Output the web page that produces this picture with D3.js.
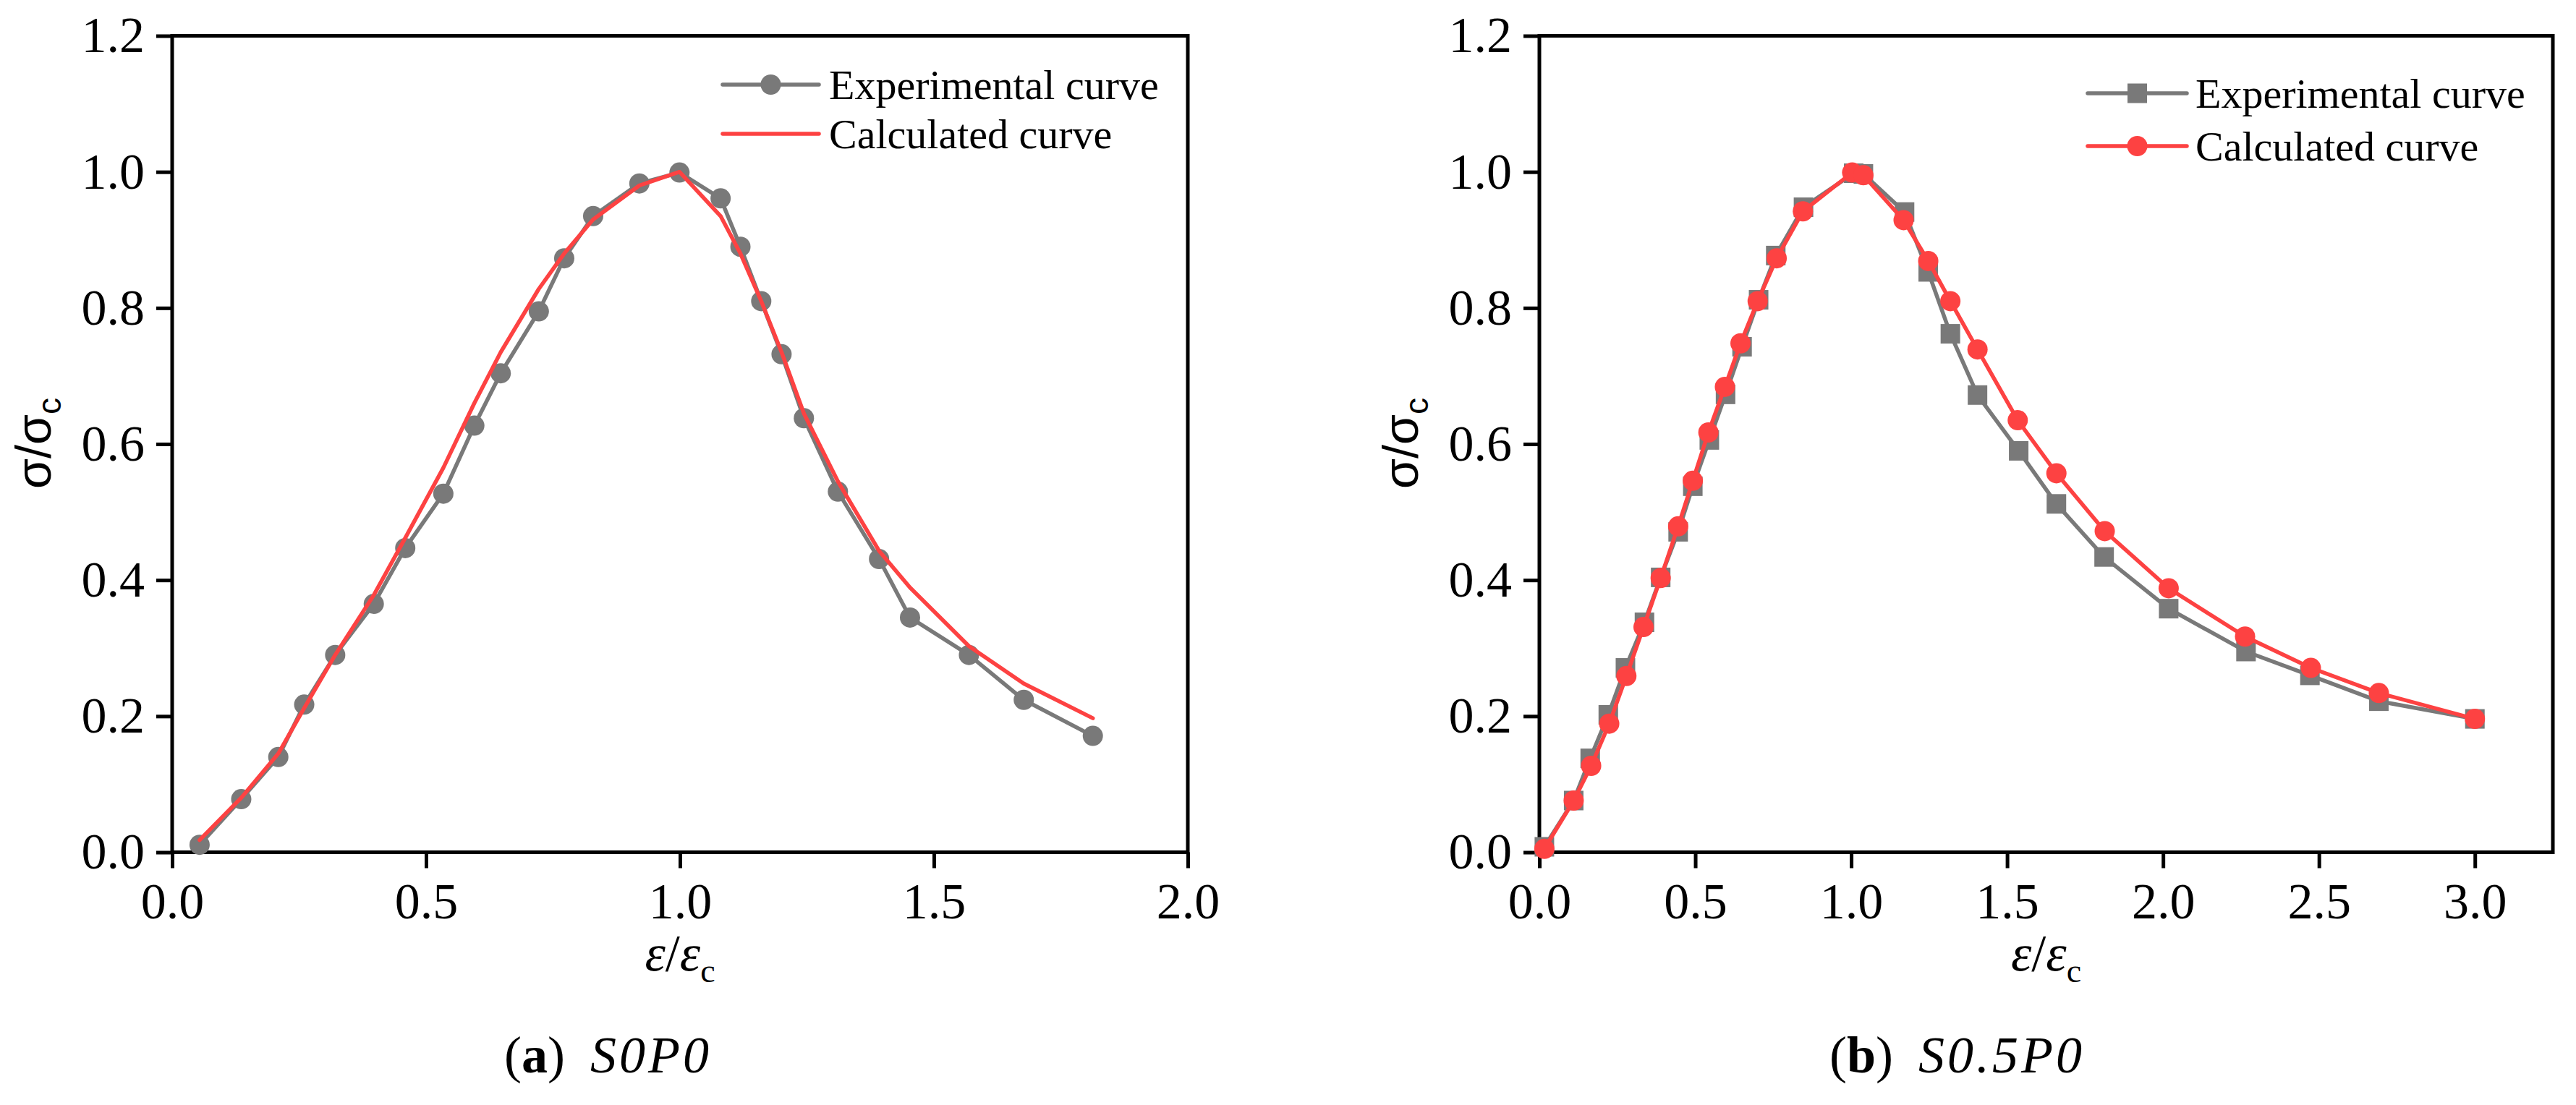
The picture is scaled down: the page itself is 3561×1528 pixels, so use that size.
<!DOCTYPE html>
<html>
<head>
<meta charset="utf-8">
<script src="https://cdn.jsdelivr.net/npm/d3@7"></script>
<style>
  html, body { margin: 0; padding: 0; background: #fff; }
  svg { display: block; }
</style>
</head>
<body>
<svg id="chart" width="3561" height="1528"></svg>
<script>
// ---------------- Data ----------------
// Panel (a) S0P0
const strainA = [0.054, 0.136, 0.209, 0.260, 0.321, 0.397, 0.459, 0.534, 0.595, 0.647, 0.722, 0.772, 0.829,
                 0.920, 0.999, 1.080, 1.119, 1.160, 1.200, 1.244, 1.311, 1.392, 1.453, 1.569, 1.677, 1.813];
const expA    = [0.011, 0.078, 0.140, 0.217, 0.290, 0.365, 0.447, 0.527, 0.627, 0.704, 0.795, 0.873, 0.935,
                 0.983, 0.999, 0.961, 0.890, 0.810, 0.732, 0.638, 0.530, 0.431, 0.345, 0.290, 0.224, 0.171];
const calcA   = [0.018, 0.080, 0.145, 0.212, 0.290, 0.378, 0.462, 0.565, 0.660, 0.735, 0.828, 0.880, 0.930,
                 0.980, 1.000, 0.935, 0.880, 0.810, 0.735, 0.645, 0.545, 0.443, 0.389, 0.303, 0.248, 0.197];

// Panel (b) S0.5P0
const strainBExp = [0.016, 0.110, 0.163, 0.221, 0.276, 0.337, 0.389, 0.445, 0.492, 0.545, 0.597, 0.650, 0.703, 0.758,
                    0.847, 1.008, 1.039, 1.171, 1.247, 1.318, 1.405, 1.537, 1.658, 1.811, 2.018, 2.266, 2.471, 2.692, 3.000];
const expB       = [0.008, 0.076, 0.138, 0.202, 0.271, 0.338, 0.404, 0.471, 0.538, 0.606, 0.673, 0.743, 0.812, 0.877,
                    0.948, 0.998, 0.997, 0.941, 0.853, 0.762, 0.672, 0.590, 0.512, 0.434, 0.358, 0.295, 0.260, 0.222, 0.196];
const strainBCalc = [0.016, 0.110, 0.166, 0.224, 0.279, 0.334, 0.389, 0.445, 0.492, 0.542, 0.595, 0.645, 0.700, 0.761,
                     0.845, 1.003, 1.039, 1.168, 1.247, 1.318, 1.405, 1.534, 1.658, 1.813, 2.018, 2.263, 2.474, 2.692, 3.000];
const calcB       = [0.005, 0.076, 0.127, 0.189, 0.259, 0.331, 0.403, 0.479, 0.546, 0.617, 0.684, 0.748, 0.810, 0.873,
                     0.942, 0.999, 0.995, 0.929, 0.869, 0.810, 0.739, 0.635, 0.557, 0.472, 0.388, 0.317, 0.271, 0.234, 0.196];

const yTicks  = [0.0, 0.2, 0.4, 0.6, 0.8, 1.0, 1.2];
const xTicksA = [0.0, 0.5, 1.0, 1.5, 2.0];
const xTicksB = [0.0, 0.5, 1.0, 1.5, 2.0, 2.5, 3.0];
const legendLabels = ["Experimental curve", "Calculated curve"];

// ---------------- Styles ----------------
const GRAY = "#797979";
const RED = "#fd4242";
const SERIF = "'Liberation Serif', 'Times New Roman', serif";
const SANS = "'Liberation Sans', Arial, sans-serif";

const svg = d3.select("#chart");
svg.append("rect").attr("width", 3561).attr("height", 1528).attr("fill", "#fff");

const panels = [
  {
    xDomain: [0, 2], xRange: [238, 1642], xTicks: xTicksA,
    series: [
      { x: strainA, y: expA, color: GRAY, marker: "circle" },
      { x: strainA, y: calcA, color: RED, marker: null }
    ],
    legend: { x1: 999, x2: 1132, ys: [117, 185], textX: 1146 },
    ylabelX: 70,
    caption: { x: 697, sx: 816, bold: "a", rest: "S0P0" }
  },
  {
    xDomain: [0, 3.25], xRange: [2128, 3529], xTicks: xTicksB,
    series: [
      { x: strainBExp, y: expB, color: GRAY, marker: "square" },
      { x: strainBCalc, y: calcB, color: RED, marker: "circle" }
    ],
    legend: { x1: 2886, x2: 3023, ys: [129, 202], textX: 3035 },
    ylabelX: 1960,
    caption: { x: 2529, sx: 2652, bold: "b", rest: "S0.5P0" }
  }
];

const yRange = [1178.5, 49.5];

panels.forEach(p => {
  const x = d3.scaleLinear().domain(p.xDomain).range(p.xRange);
  const y = d3.scaleLinear().domain([0, 1.2]).range(yRange);
  const g = svg.append("g");

  // Axes
  const xAxis = d3.axisBottom(x).tickValues(p.xTicks).tickFormat(d3.format(".1f"))
    .tickSize(22).tickPadding(20);
  const yAxis = d3.axisLeft(y).tickValues(yTicks).tickFormat(d3.format(".1f"))
    .tickSize(22).tickPadding(16);

  const gx = g.append("g").attr("transform", `translate(0,${yRange[0]})`).call(xAxis);
  const gy = g.append("g").attr("transform", `translate(${p.xRange[0]},0)`).call(yAxis);
  [gx, gy].forEach(a => {
    a.select(".domain").remove();
    a.selectAll(".tick line").attr("stroke", "#000").attr("stroke-width", 5);
    a.selectAll(".tick text").attr("font-family", SERIF).attr("font-size", 70).attr("fill", "#000");
  });

  // Frame
  g.append("rect")
    .attr("x", p.xRange[0]).attr("y", yRange[1])
    .attr("width", p.xRange[1] - p.xRange[0]).attr("height", yRange[0] - yRange[1])
    .attr("fill", "none").attr("stroke", "#000").attr("stroke-width", 5);

  // Series
  p.series.forEach(s => {
    const pts = s.x.map((v, i) => [v, s.y[i]]);
    const line = d3.line().x(d => x(d[0])).y(d => y(d[1]));
    g.append("path").datum(pts).attr("d", line)
      .attr("fill", "none").attr("stroke", s.color).attr("stroke-width", 5.5)
      .attr("stroke-linejoin", "round").attr("stroke-linecap", "round");
    if (s.marker === "circle") {
      g.selectAll(null).data(pts).enter().append("circle")
        .attr("cx", d => x(d[0])).attr("cy", d => y(d[1])).attr("r", 14)
        .attr("fill", s.color);
    } else if (s.marker === "square") {
      g.selectAll(null).data(pts).enter().append("rect")
        .attr("x", d => x(d[0]) - 13.5).attr("y", d => y(d[1]) - 13.5)
        .attr("width", 27).attr("height", 27).attr("fill", s.color);
    }
  });

  // Legend
  p.series.forEach((s, i) => {
    const ly = p.legend.ys[i];
    g.append("line").attr("x1", p.legend.x1).attr("x2", p.legend.x2).attr("y1", ly).attr("y2", ly)
      .attr("stroke", s.color).attr("stroke-width", 5.5).attr("stroke-linecap", "round");
    const mx = (p.legend.x1 + p.legend.x2) / 2;
    if (s.marker === "circle") {
      g.append("circle").attr("cx", mx).attr("cy", ly).attr("r", 14).attr("fill", s.color);
    } else if (s.marker === "square") {
      g.append("rect").attr("x", mx - 13.5).attr("y", ly - 13.5).attr("width", 27).attr("height", 27).attr("fill", s.color);
    }
    g.append("text").attr("x", p.legend.textX).attr("y", ly + 20)
      .attr("font-family", SERIF).attr("font-size", 58).attr("fill", "#000")
      .text(legendLabels[i]);
  });

  // Y label (rotated)
  const yl = g.append("text")
    .attr("transform", `translate(${p.ylabelX},613) rotate(-90)`)
    .attr("text-anchor", "middle").attr("font-family", SANS).attr("font-size", 68).attr("fill", "#000");
  yl.append("tspan").text("σ/σ");
  yl.append("tspan").attr("font-size", 46).attr("dy", 14).text("c");

  // X label
  const cx = (p.xRange[0] + p.xRange[1]) / 2;
  const xl = g.append("text").attr("x", cx).attr("y", 1342)
    .attr("text-anchor", "middle").attr("font-family", SERIF).attr("font-size", 72).attr("fill", "#000");
  xl.append("tspan").attr("font-style", "italic").text("ε");
  xl.append("tspan").text("/");
  xl.append("tspan").attr("font-style", "italic").text("ε");
  xl.append("tspan").attr("font-size", 46).attr("dy", 16).text("c");

  // Caption
  const cap = g.append("text").attr("y", 1483)
    .attr("font-family", SERIF).attr("font-size", 72).attr("fill", "#000");
  cap.append("tspan").attr("x", p.caption.x).text("(");
  cap.append("tspan").attr("font-weight", "bold").text(p.caption.bold);
  cap.append("tspan").text(")");
  cap.append("tspan").attr("x", p.caption.sx).attr("font-style", "italic")
    .attr("letter-spacing", 4).text(p.caption.rest);
});
</script>
</body>
</html>
